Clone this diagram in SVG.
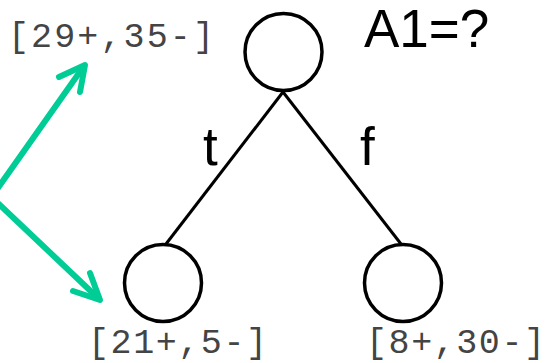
<svg xmlns="http://www.w3.org/2000/svg" width="547" height="363" viewBox="0 0 547 363">
<style>
.node{fill:#fff;stroke:#000;stroke-width:3.5}
.edge{stroke:#000;stroke-width:3;fill:none}
.count{font-family:"Liberation Mono","Courier New",monospace;font-size:35px;fill:#444}
.lbl{font-family:"Liberation Sans",Arial,sans-serif;font-size:53px;fill:#000}
.arrow{stroke:#00CC96;stroke-width:6;fill:none;stroke-linecap:round;stroke-linejoin:round}
</style>
<g id="connectors">
<line class="edge" x1="283" y1="92" x2="166" y2="244"/>
<line class="edge" x1="283" y1="92" x2="401" y2="244"/>
<path class="arrow" d="M-8.5,197 L84,66"/>
<path class="arrow" d="M59,77 L85,65 L80,92"/>
<path class="arrow" d="M-8.5,197 L99,299"/>
<path class="arrow" d="M73,291 L100,300 L90,273"/>
</g>
<g id="root">
<circle class="node" cx="283.5" cy="52" r="38.5"/>
<text class="count" x="8" y="47" textLength="206" lengthAdjust="spacing">[29+,35-]</text>
<text class="lbl" x="364" y="47">A1=?</text>
</g>
<g id="edge-t"><text class="lbl" x="203" y="165">t</text></g>
<g id="edge-f"><text class="lbl" x="360" y="165">f</text></g>
<g id="left">
<circle class="node" cx="163" cy="283" r="38.5"/>
<text class="count" x="88" y="353" textLength="179" lengthAdjust="spacing">[21+,5-]</text>
</g>
<g id="right">
<circle class="node" cx="403" cy="283" r="38.5"/>
<text class="count" x="366" y="353" textLength="179" lengthAdjust="spacing">[8+,30-]</text>
</g>
</svg>
